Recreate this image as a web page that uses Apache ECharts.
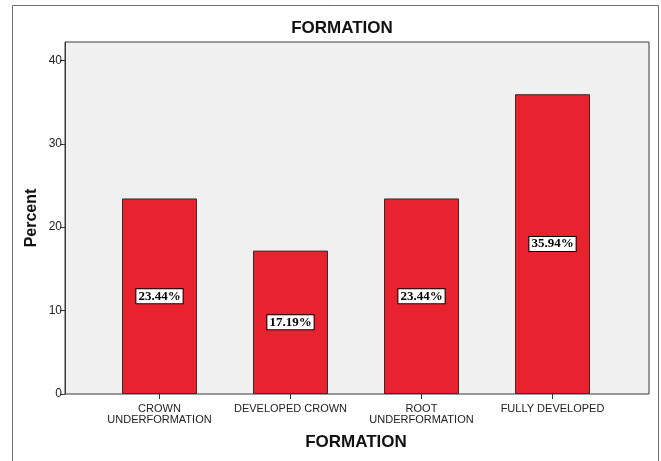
<!DOCTYPE html>
<html>
<head>
<meta charset="utf-8">
<script src="https://cdn.jsdelivr.net/npm/echarts@6/dist/echarts.min.js"></script>
<style>
  html, body { margin: 0; padding: 0; background: #fff; }
  #chart { width: 661px; height: 461px; }
</style>
</head>
<body>
<div id="chart"></div>
<script>
// Tooth formation stages and their share of cases (%)
const categories = ['CROWN\nUNDERFORMATION', 'DEVELOPED CROWN', 'ROOT\nUNDERFORMATION', 'FULLY DEVELOPED'];
const percentValues = [23.44, 17.19, 23.44, 35.94];
const yTicks = [0, 10, 20, 30, 40];

const chart = echarts.init(document.getElementById('chart'));
const font = 'Arial, "Liberation Sans", sans-serif';
const yMax = 42.2;

chart.setOption({
  animation: false,
  backgroundColor: '#ffffff',
  title: {
    text: 'FORMATION',
    left: 337, top: 15, textAlign: 'center',
    textStyle: { fontFamily: font, fontSize: 17, fontWeight: 'bold', color: '#111' }
  },
  graphic: [{
    type: 'rect', z: -10, silent: true,
    shape: { x: 12.5, y: 5.5, width: 646, height: 470 },
    style: { fill: 'none', stroke: '#6f6f6f', lineWidth: 1 }
  }],
  grid: [
    { // plot frame with the y scale
      left: 65, right: 12, top: 42, bottom: 67,
      show: true, backgroundColor: '#f0f0f0', borderColor: '#3a3a3a', borderWidth: 1
    },
    { // bar lane
      left: 94, right: 43, top: 42, bottom: 67
    }
  ],
  xAxis: [
    { gridIndex: 0, type: 'value', show: false, min: 0, max: 1 },
    {
      gridIndex: 1, type: 'category', data: categories,
      boundaryGap: true,
      axisLine: { show: false },
      axisTick: { show: true, alignWithLabel: true, length: 5, lineStyle: { color: '#333' } },
      axisLabel: { fontFamily: font, fontSize: 11, color: '#222', margin: 10, lineHeight: 10.5, interval: 0 },
      name: 'FORMATION', nameLocation: 'middle', nameGap: 40, nameMoveOverlap: false,
      nameTextStyle: { fontFamily: font, fontSize: 17, fontWeight: 'bold', color: '#111' }
    }
  ],
  yAxis: [
    {
      gridIndex: 0, type: 'value', min: 0, max: yMax,
      axisLine: { show: true, lineStyle: { color: '#3a3a3a' } },
      axisTick: { show: true, length: 5, customValues: yTicks, lineStyle: { color: '#333' } },
      axisLabel: { fontFamily: font, fontSize: 12, color: '#222', margin: 3, customValues: yTicks },
      splitLine: { show: false },
      name: 'Percent', nameLocation: 'middle', nameGap: 25, nameMoveOverlap: false,
      nameTextStyle: { fontFamily: font, fontSize: 16, fontWeight: 'bold', color: '#111' }
    },
    { gridIndex: 1, type: 'value', min: 0, max: yMax, show: false }
  ],
  series: [{
    type: 'bar',
    xAxisIndex: 1, yAxisIndex: 1,
    data: percentValues,
    barWidth: 75,
    itemStyle: { color: '#e8232f', borderColor: '#3a2a2a', borderWidth: 1 },
    label: {
      show: true, position: 'inside',
      formatter: p => p.value.toFixed(2) + '%',
      fontFamily: '"Liberation Serif", "Times New Roman", serif',
      fontSize: 13, fontWeight: 'bold', color: '#000',
      backgroundColor: '#ffffff', borderColor: '#000', borderWidth: 1,
      padding: [1, 2, 0, 2]
    }
  }]
});
</script>
</body>
</html>
